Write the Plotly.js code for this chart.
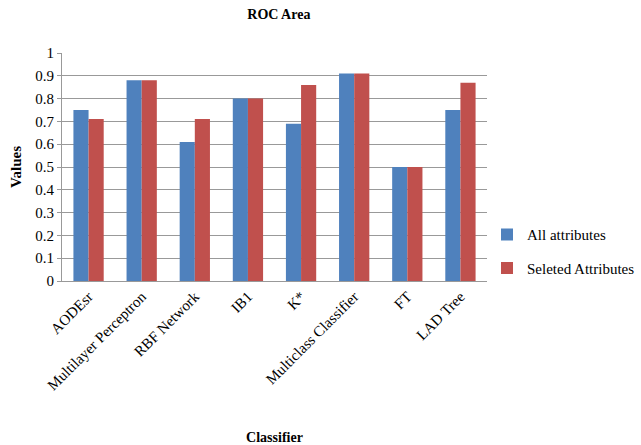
<!DOCTYPE html>
<html><head><meta charset="utf-8">
<script src="https://cdn.plot.ly/plotly-3.0.1.min.js"></script>
<style>html,body{margin:0;padding:0;background:#fff;}#chart{width:641px;height:445px;}</style>
</head><body><div id="chart"></div>
<script>
const categories = ["AODEsr","Multilayer Perceptron","RBF Network","IB1","K*","Multiclass Classifier","FT","LAD Tree"];
const allAttributes = [0.75,0.88,0.61,0.80,0.69,0.91,0.50,0.75];
const selectedAttributes = [0.71,0.88,0.71,0.80,0.86,0.91,0.50,0.87];
const seriesNames = ["All attributes","Seleted Attributes"];
const yTicks = [0,0.1,0.2,0.3,0.4,0.5,0.6,0.7,0.8,0.9,1];
const yTickText = ["0","0.1","0.2","0.3","0.4","0.5","0.6","0.7","0.8","0.9","1"];

const serif = '"Liberation Serif", "Times New Roman", serif';
const data = [
  {type:"bar", x:categories, y:allAttributes, name:seriesNames[0], marker:{color:"#4F81BD"}, legendgroup:"a"},
  {type:"bar", x:categories, y:selectedAttributes, name:seriesNames[1], marker:{color:"#C0504D"}, legendgroup:"b"}
];
const layout = {
  width:641, height:445,
  margin:{l:62, r:154, t:53, b:164, autoexpand:false},
  paper_bgcolor:"#fff", plot_bgcolor:"#fff",
  font:{family:serif, size:14, color:"#000"},
  title:{text:"<b>ROC Area</b>", font:{family:serif, size:14}, x:0.435, xanchor:"center", y:0.98, yanchor:"top"},
  barmode:"group", bargap:0.43, bargroupgap:0,
  xaxis:{type:"category", tickangle:-45, tickfont:{family:serif,size:15}, showline:true, linecolor:"#999", linewidth:1,
         ticks:"", showgrid:false, automargin:false,
         title:{text:"<b>Classifier</b>", font:{family:serif,size:14}, standoff:40}},
  yaxis:{range:[0,1], tickvals:yTicks, ticktext:yTickText, tickfont:{family:serif,size:15},
         showgrid:true, gridcolor:"#999", gridwidth:1, zeroline:false,
         showline:true, linecolor:"#999", ticks:"outside", ticklen:4, tickcolor:"#999", automargin:false,
         title:{text:"<b>Values</b>", font:{family:serif,size:15}, standoff:10}},
  showlegend:true,
  legend:{x:1.0, xanchor:"left", y:0.13, yanchor:"middle", font:{family:serif,size:15}, tracegroupgap:11,
          itemwidth:30, bgcolor:"rgba(0,0,0,0)"}
};
Plotly.newPlot("chart", data, layout, {displayModeBar:false, staticPlot:true});
</script></body></html>
